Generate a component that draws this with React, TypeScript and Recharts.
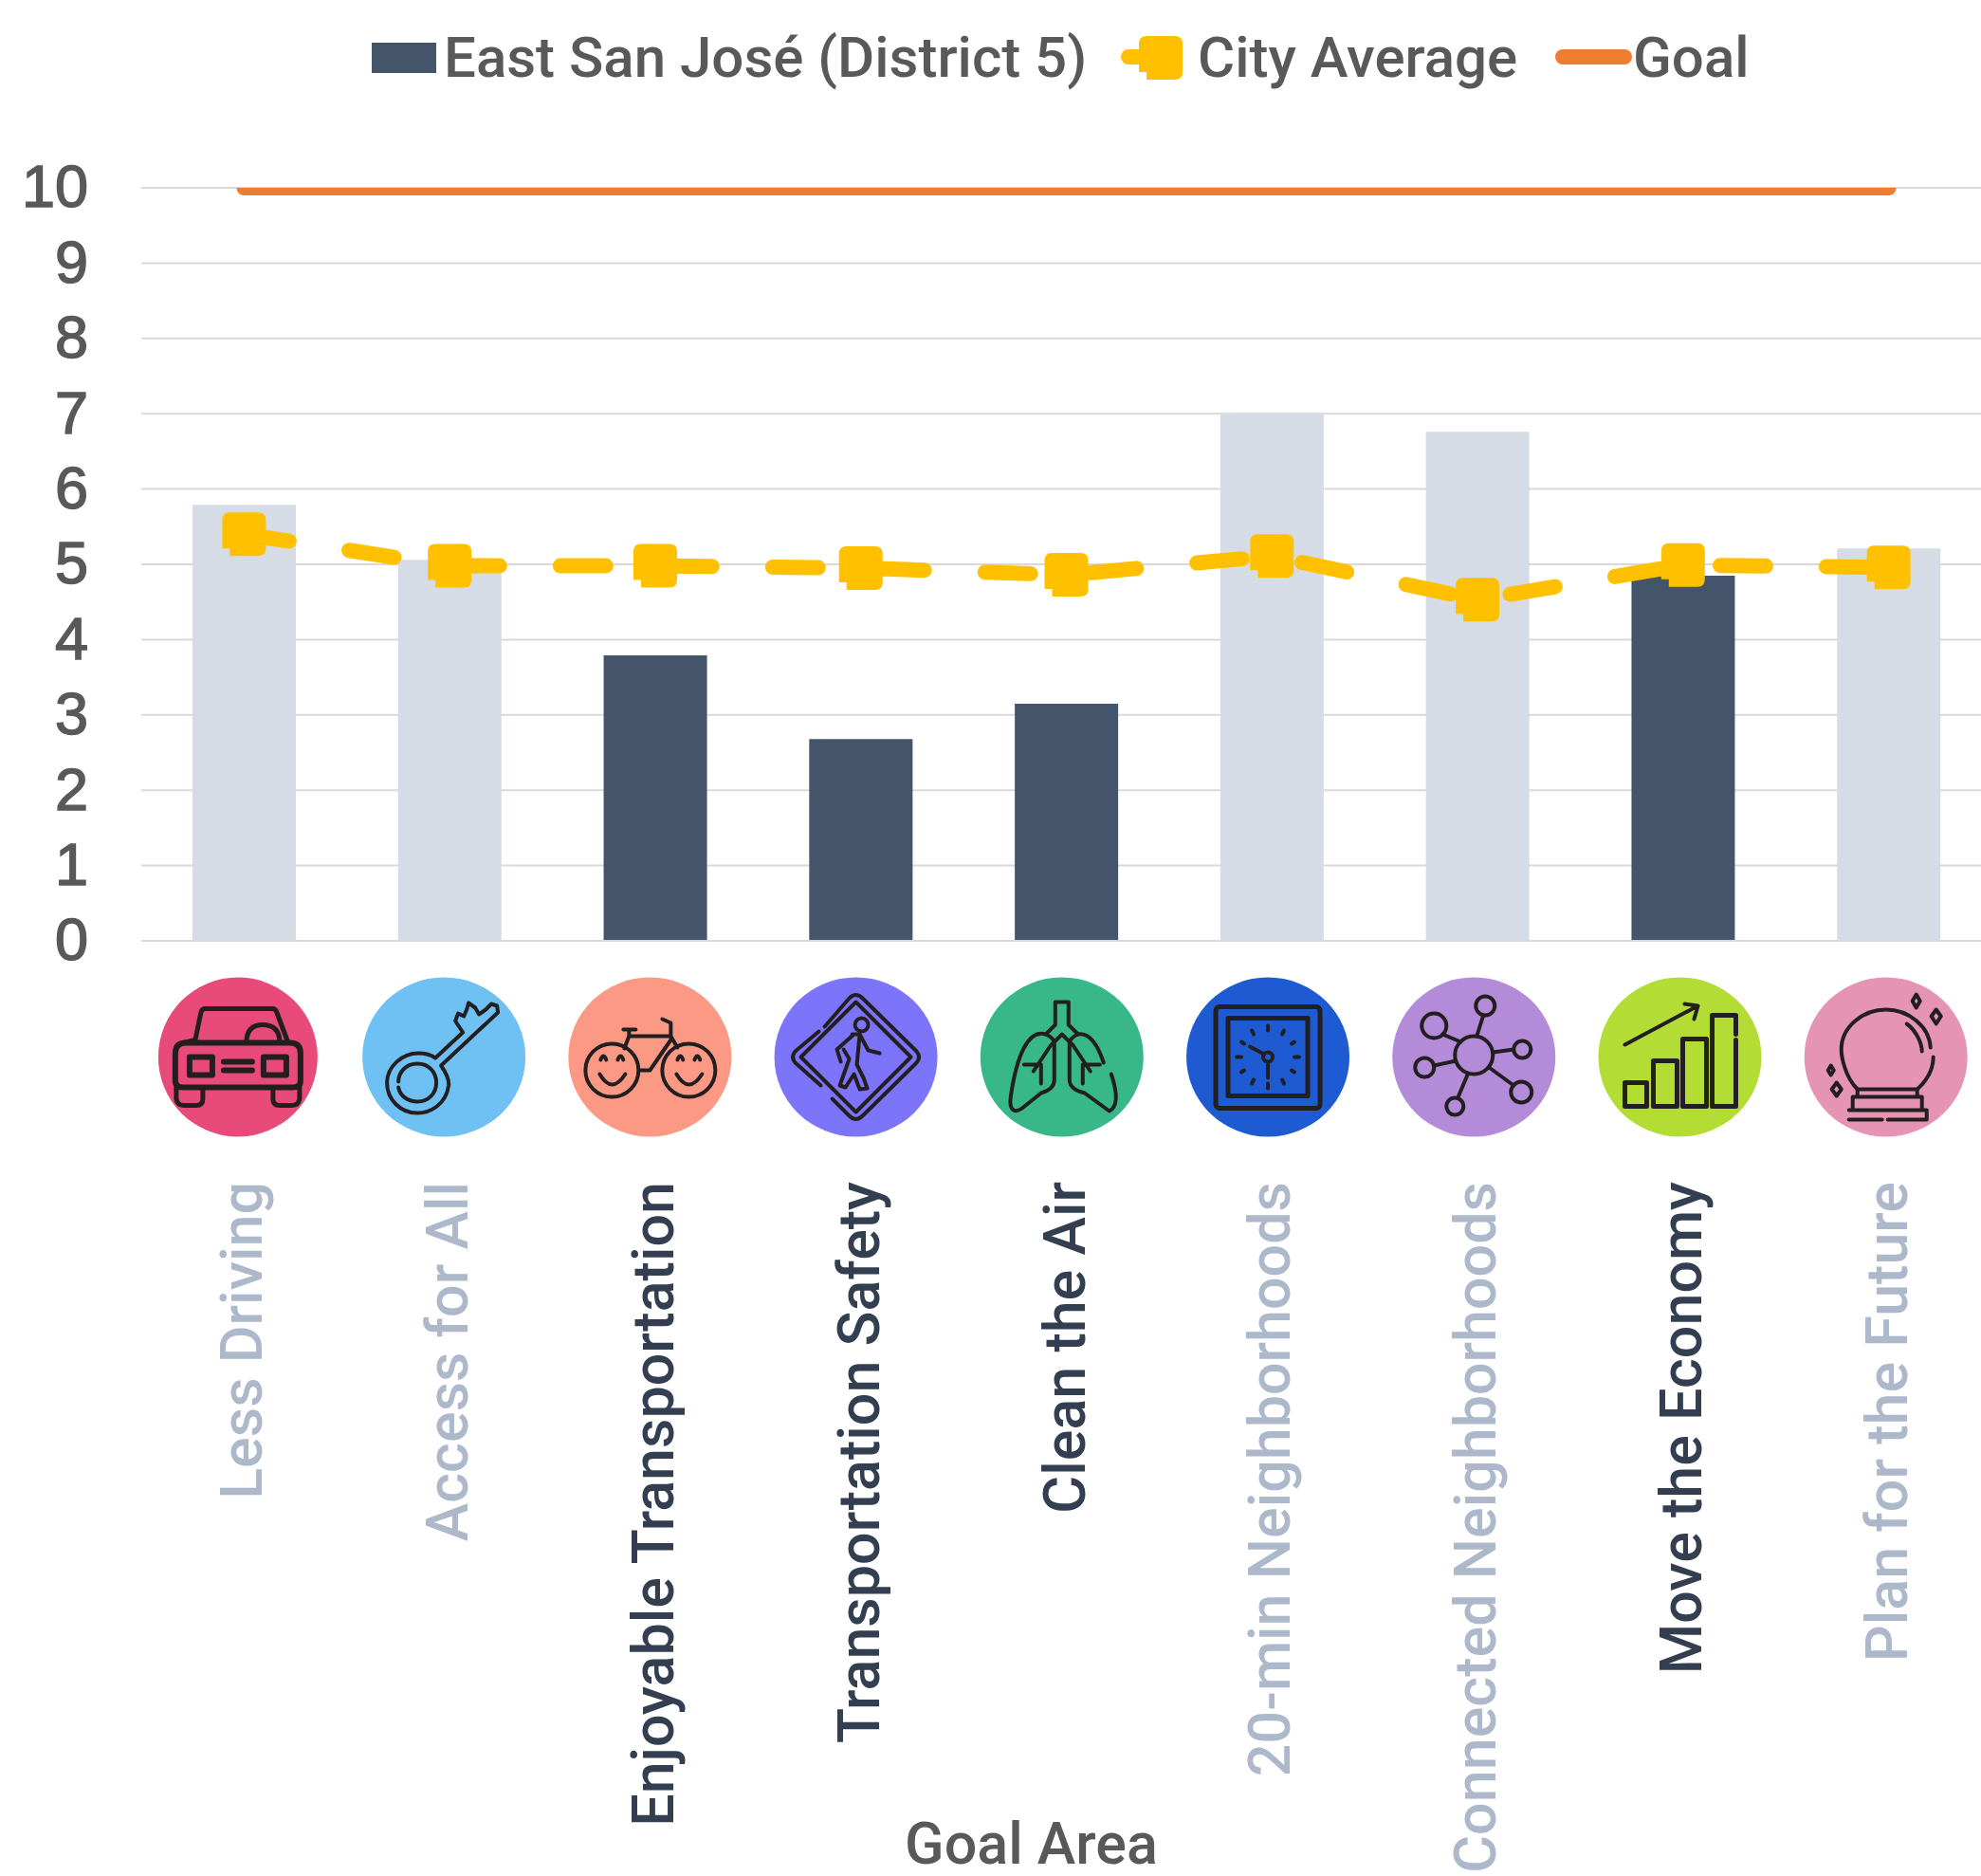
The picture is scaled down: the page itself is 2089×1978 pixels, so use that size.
import { Bar, CartesianGrid, Cell, ComposedChart, Line, XAxis, YAxis } from 'recharts';

const goalAreas = [
  'Less Driving',
  'Access for All',
  'Enjoyable Transportation',
  'Transportation Safety',
  'Clean the Air',
  '20-min Neighborhoods',
  'Connected Neighborhoods',
  'Move the Economy',
  'Plan for the Future',
];
const eastSanJose = [5.79, 5.06, 3.79, 2.68, 3.15, 7.01, 6.76, 4.85, 5.21];
const cityAverage = [5.4, 4.98, 4.98, 4.95, 4.86, 5.11, 4.53, 4.99, 4.96];
const goal = [10, 10, 10, 10, 10, 10, 10, 10, 10];
const yTicks = [0, 1, 2, 3, 4, 5, 6, 7, 8, 9, 10];
const iconColors = ['#E84A7A', '#6EC1F2', '#FB9985', '#7D75F9', '#38B888', '#1E5BD3', '#B48BD8', '#B3DD35', '#E594B4'];

const DARK = '#44546A';
const LIGHT = '#D6DCE5';
const DARK_TEXT = '#333F50';
const LIGHT_TEXT = '#ADB9CA';
const GREY = '#595959';
const YELLOW = '#FFC000';
const ORANGE = '#ED7D31';
const FONT = 'Roboto, sans-serif';

const data = goalAreas.map((area, i) => ({
  area,
  east: eastSanJose[i],
  city: cityAverage[i],
  goal: goal[i],
}));

// square marker with the little stepped corner bottom left
function markerPath(cx: number, cy: number) {
  const h = 23;
  return `M${cx - h} ${cy - h + 8} Q${cx - h} ${cy - h} ${cx - h + 8} ${cy - h} L${cx + h - 8} ${cy - h}
    Q${cx + h} ${cy - h} ${cx + h} ${cy - h + 8} L${cx + h} ${cy + h - 8} Q${cx + h} ${cy + h} ${cx + h - 8} ${cy + h}
    L${cx - h + 8} ${cy + h} L${cx - h + 8} ${cy + h - 8} L${cx - h} ${cy + h - 8} Z`;
}

function CityDot(props: any) {
  return <path key={props.index} d={markerPath(props.cx, props.cy)} fill={YELLOW} />;
}

const icons = [
  // car
  <g>
    <path d="M-57 -15 L-45 -18 L-39 -47 Q-38 -51 -34 -51 L36 -51 Q40 -51 41 -47 L53 -15" strokeWidth={5} />
    <path d="M-66 -4 Q-66 -15 -55 -15 L55 -15 Q66 -15 66 -4 L66 25 Q66 32 58 32 L-58 32 Q-66 32 -66 25 Z" strokeWidth={6} />
    <path d="M-65 32 L-65 44 Q-64 51 -57 51 L-44 51 Q-37 51 -37 44 L-37 32 M65 32 L65 44 Q64 51 57 51 L44 51 Q37 51 37 44 L37 32" strokeWidth={5} />
    <rect x={-51} y={0} width={24} height={19} strokeWidth={6} />
    <rect x={27} y={0} width={24} height={19} strokeWidth={6} />
    <path d="M-15 5 L15 5 M-15 14 L15 14" strokeWidth={6} />
    <path d="M9 -17 Q10 -34 26 -34 Q43 -34 44 -17" strokeWidth={5} />
  </g>,
  // key
  <g>
    <path d="M-9 1 L20 -26 L12 -38 L15 -46 L21 -43 L24 -50 L26 -57 L33 -52 L37 -45 L44 -50 L50 -56 L56 -54 L57 -47 L-3 9 Q6 22 5 30 C2 50 -14 59 -28 59 C-46 59 -60 45 -60 27 C-60 10 -44 -4 -27 -4 Q-16 -4 -9 1 Z" />
    <path d="M-48 32 C-46 42 -37 47 -28 47 C-16 47 -8 38 -8 27 C-8 16 -16 7 -28 7 C-40 7 -48 16 -48 26" />
  </g>,
  // bicycle with smiling wheels
  <g>
    <circle cx={-40} cy={14} r={28} />
    <circle cx={41} cy={14} r={28} />
    <path d="M-28 -29 L-15 -29 M-22 -29 L-22 -22 L-27 -9 M-22 -22 L22 -22 L29 -10 M22 -18 L0 14 L-10 14 M22 -21 L22 -36 L13 -40" />
    <path d="M-52 3 Q-49 -5 -46 3 M-34 3 Q-31 -5 -28 3 M-53 18 Q-40 40 -26 18 M29 3 Q32 -5 35 3 M47 3 Q50 -5 53 3 M28 18 Q41 40 55 18" />
  </g>,
  // pedestrian sign
  <g>
    <path d="M-33 -32 L-7 -62 Q0 -69 7 -62 L64 -6 Q69 0 64 6 L7 62 Q0 69 -7 62 L-25 44 M-37 30 L-64 6 Q-69 0 -64 -6 L-39 -27" />
    <path d="M0 -58 L58 0 L0 58 L-58 0 Z" />
    <circle cx={6} cy={-34} r={7} />
    <path d="M-2 -24 L-20 -8 L-16 5 M-4 -24 L4 -24 L13 -7 L25 -4 M4 -24 L1 8 L8 22 L12 33 L4 34 L-2 18 L-11 32 L-17 30 L-7 2 L-13 -8" />
  </g>,
  // lungs
  <g>
    <path d="M-7 -58 L7 -58 L7 -34 L17 -24 M-7 -58 L-7 -34 L-17 -24 M0 -24 L-12 -12 L-30 15 M0 -24 L12 -12 L30 15" />
    <path d="M-17 -24 C-36 -30 -48 0 -54 42 C-56 56 -50 60 -42 54 L-22 38 Q-8 34 -8 24 L-8 -14 Q-8 -20 -17 -24 Z" />
    <path d="M17 -24 C30 -26 38 -12 44 6 M52 18 C58 36 60 52 50 57 L24 38 Q8 34 8 24 L8 -14 Q8 -20 17 -24" />
    <path d="M-40 8 L-22 8 M-22 8 L-22 28 M40 8 L22 8 M22 8 L22 28" />
  </g>,
  // clock in a square frame
  <g>
    <rect x={-55} y={-53} width={110} height={107} rx={4} strokeWidth={5} />
    <rect x={-42} y={-41} width={84} height={82} strokeWidth={5} />
    <circle cx={0} cy={0} r={5} />
    <path d="M-4 -3 L-19 -11 M0 5 L0 22" />
    <path d="M0 -33 L0 -28 M0 28 L0 33 M-33 0 L-28 0 M28 0 L33 0 M-17 -28 L-15 -24 M17 -28 L15 -24 M-28 -16 L-25 -14 M28 -16 L25 -14 M-28 16 L-25 14 M28 16 L25 14 M-17 28 L-15 24 M17 28 L15 24" />
  </g>,
  // network
  <g>
    <circle cx={0} cy={-2} r={20} />
    <circle cx={12} cy={-54} r={10} />
    <circle cx={-42} cy={-33} r={13} />
    <circle cx={51} cy={-8} r={9} />
    <circle cx={-52} cy={11} r={10} />
    <circle cx={50} cy={37} r={11} />
    <circle cx={-20} cy={52} r={9} />
    <path d="M3 -22 L10 -44 M-14 -16 L-33 -24 M20 -5 L42 -8 M-19 4 L-42 9 M16 11 L42 30 M-6 17 L-17 43" />
  </g>,
  // rising bars
  <g>
    <rect x={-58} y={27} width={23} height={25} strokeWidth={5} />
    <rect x={-28} y={4} width={25} height={48} strokeWidth={5} />
    <rect x={3} y={-19} width={25} height={71} strokeWidth={5} />
    <path d="M59 -24 L59 -44 L34 -44 L34 52 L59 52 L59 -18" strokeWidth={5} />
    <path d="M-58 -13 L19 -54 M5 -56 L19 -54 L15 -40" />
  </g>,
  // crystal ball
  <g>
    <path d="M-30 34 C-44 20 -47 -2 -47 -8 C-47 -32 -24 -50 0 -50 C24 -50 46 -32 47 -10 M50 0 C50 12 44 24 33 34" />
    <path d="M22 -35 C32 -28 38 -14 38 -6" />
    <path d="M-30 34 L33 34 L33 42 L-30 42 Z M-35 42 L38 42 L38 56 L-35 56 Z M-39 56 L43 56 L43 66 L2 66 M-4 66 L-39 66 Z" />
    <path d="M32 -66 L36 -59 L32 -52 L28 -59 Z M53 -50 L58 -43 L53 -35 L48 -43 Z M-52 27 L-47 34 L-52 41 L-57 34 Z M-58 9 L-55 14 L-58 19 L-61 14 Z" />
  </g>,
];

function GoalTick(props: any) {
  const { x, y, index, payload } = props;
  const below = eastSanJose[index] < cityAverage[index];
  return (
    <g>
      <g transform={`translate(${x - 6.5 + index * 0.45} ${y + 120.5})`}>
        <ellipse rx={index === 0 ? 84 : 86} ry={84} fill={iconColors[index]} />
        <g fill="none" stroke="#231F20" strokeWidth={4} strokeLinecap="round" strokeLinejoin="round">
          {icons[index]}
        </g>
      </g>
      <text
        transform={`translate(${x + 19} ${y + 252}) rotate(-90)`}
        textAnchor="end"
        fontFamily={FONT}
        fontWeight={500}
        fontSize={61}
        fill={below ? DARK_TEXT : LIGHT_TEXT}
      >
        {payload.value}
      </text>
    </g>
  );
}

function ChartLegend() {
  const legendText = { fontFamily: FONT, fontWeight: 500, fontSize: 60, fill: GREY };
  return (
    <g>
      <rect x={392} y={45} width={68} height={32} fill={DARK} />
      <text x={468} y={81} {...legendText}>East San José (District 5)</text>
      <path d="M1190 60 L1236 60" stroke={YELLOW} strokeWidth={16} strokeLinecap="round" />
      <path d={markerPath(1224, 61)} fill={YELLOW} />
      <text x={1263} y={81} {...legendText}>City Average</text>
      <path d="M1648 60 L1713 60" stroke={ORANGE} strokeWidth={16} strokeLinecap="round" />
      <text x={1722} y={81} {...legendText}>Goal</text>
    </g>
  );
}

export default function App() {
  return (
    <div style={{ position: 'absolute', left: 0, top: 0, width: 2089, height: 1978, overflow: 'hidden', background: '#fff' }}>
      <ComposedChart
        width={2100}
        height={1978}
        data={data}
        margin={{ top: 198, right: 0, bottom: 0, left: 0 }}
        barCategoryGap={0}
      >
        <CartesianGrid horizontal vertical={false} stroke="#D9D9D9" strokeWidth={2} />
        <XAxis
          dataKey="area"
          interval={0}
          height={986}
          tickLine={false}
          tickSize={0}
          axisLine={{ stroke: '#D9D9D9', strokeWidth: 2 }}
          tick={GoalTick}
          label={{ value: 'Goal Area', position: 'insideBottom', offset: 13, dx: -37, fontFamily: FONT, fontWeight: 500, fontSize: 61, fill: GREY }}
        />
        <YAxis
          width={149}
          domain={[0, 10]}
          ticks={yTicks}
          allowDataOverflow
          interval={0}
          tickLine={false}
          axisLine={false}
          tickSize={0}
          tickMargin={56}
          tick={{ fontFamily: 'Liberation Sans, sans-serif', fontSize: 63, fill: GREY, stroke: GREY, strokeWidth: 1.5, dy: -2 }}
        />
        <Bar dataKey="east" name="East San José (District 5)" barSize={109} isAnimationActive={false}>
          {data.map((d) => (
            <Cell key={d.area} fill={d.east < d.city ? DARK : LIGHT} />
          ))}
        </Bar>
        <Line
          dataKey="goal"
          name="Goal"
          stroke={ORANGE}
          strokeWidth={16}
          strokeLinecap="round"
          dot={false}
          isAnimationActive={false}
        />
        <Line
          dataKey="city"
          name="City Average"
          stroke={YELLOW}
          strokeWidth={16}
          strokeLinecap="round"
          strokeDasharray="48 64"
          dot={CityDot}
          isAnimationActive={false}
        />
        <ChartLegend />
      </ComposedChart>
    </div>
  );
}
